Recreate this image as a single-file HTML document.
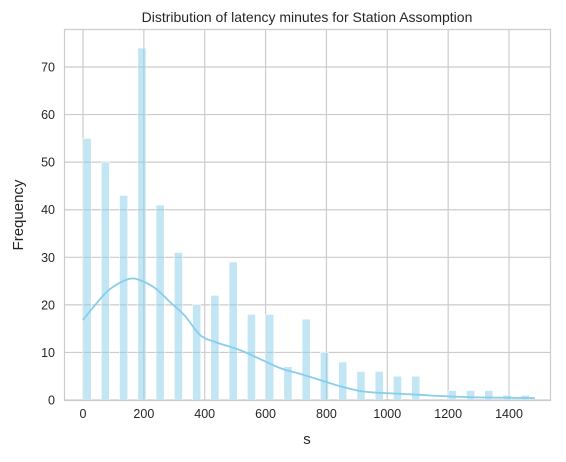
<!DOCTYPE html>
<html><head><meta charset="utf-8"><style>
body{margin:0;background:#fff;font-family:"Liberation Sans",sans-serif;}
svg text{font-family:"Liberation Sans",sans-serif;fill:#262626;}
</style></head><body>
<svg id="chart" width="566" height="457">
<rect x="0" y="0" width="566" height="457" fill="#fff"/>
<g id="grid"></g><g id="bars"></g><g id="kde"></g><g id="ticks"></g>
<rect x="64.5" y="29.5" width="486" height="371" fill="none" stroke="#cccccc" stroke-width="1.2"/>
<text x="307" y="22" text-anchor="middle" font-size="14">Distribution of latency minutes for Station Assomption</text>
<text x="307" y="444" text-anchor="middle" font-size="15">s</text>
<text transform="translate(23,215) rotate(-90)" text-anchor="middle" font-size="15">Frequency</text>
</svg>
<script>
const binStart=0, binWidth=60;
const counts=[55,50,43,74,41,31,20,22,29,18,18,7,17,10,8,6,6,5,5,0,2,2,2,1,1];
const kdeX=[0,40,88,148,187,237,286,335,384,434,516,582,648,713,779,845,910,976,1042,1107,1173,1272,1370,1485];
const kdeY=[16.8,20,23.3,25.4,25.2,23.5,20.6,17.7,13.7,12.2,10.5,8.6,6.7,5.5,4.2,2.9,1.9,1.5,1.3,1.1,0.85,0.6,0.5,0.4];
const xTicks=[0,200,400,600,800,1000,1200,1400];
const yTicks=[0,10,20,30,40,50,60,70];
const NS="http://www.w3.org/2000/svg";
const X=v=>83+v*0.3043, Y=v=>400-v*4.757;
const grid=document.getElementById('grid'),ticks=document.getElementById('ticks'),bars=document.getElementById('bars'),kde=document.getElementById('kde');
function mk(tag,attrs,parent){const e=document.createElementNS(NS,tag);for(const k in attrs)e.setAttribute(k,attrs[k]);parent.appendChild(e);return e;}
xTicks.forEach(t=>{
 const l=mk('line',{x1:X(t),x2:X(t),y1:29,y2:400,stroke:'#cccccc','stroke-width':1.2},grid);
 
 
 const tx=mk('text',{x:X(t),y:418,'text-anchor':'middle','font-size':12.5},ticks);tx.textContent=t;
 
 
});
yTicks.forEach(t=>{
 const l=mk('line',{x1:64,x2:550,y1:Y(t),y2:Y(t),stroke:'#cccccc','stroke-width':1.2},grid);
 
 
 const tx=mk('text',{x:55,y:Y(t)+4.5,'text-anchor':'end','font-size':12.5},ticks);tx.textContent=t;
 
 
});
counts.forEach((c,i)=>{
 if(c<=0)return;
 const x0=X(binStart+i*binWidth);
 const r=mk('rect',{x:x0,y:Y(c),width:binWidth*0.3043*0.45,height:400-Y(c),fill:'#87ceeb','fill-opacity':0.5,stroke:'#fff','stroke-width':0.6},bars);
 
 
});
const P=kdeX.map((v,i)=>[X(v),Y(kdeY[i])]);
let d='M'+P[0][0].toFixed(1)+','+P[0][1].toFixed(1);
for(let i=0;i<P.length-1;i++){
 const p0=P[Math.max(0,i-1)],p1=P[i],p2=P[i+1],p3=P[Math.min(P.length-1,i+2)];
 const c1=[p1[0]+(p2[0]-p0[0])/6,p1[1]+(p2[1]-p0[1])/6];
 const c2=[p2[0]-(p3[0]-p1[0])/6,p2[1]-(p3[1]-p1[1])/6];
 d+=' C'+c1[0].toFixed(1)+','+c1[1].toFixed(1)+' '+c2[0].toFixed(1)+','+c2[1].toFixed(1)+' '+p2[0].toFixed(1)+','+p2[1].toFixed(1);
}
const p=mk('path',{d:d,fill:'none',stroke:'#87ceeb','stroke-width':1.8,'stroke-linejoin':'round'},kde);


</script>
</body></html>
